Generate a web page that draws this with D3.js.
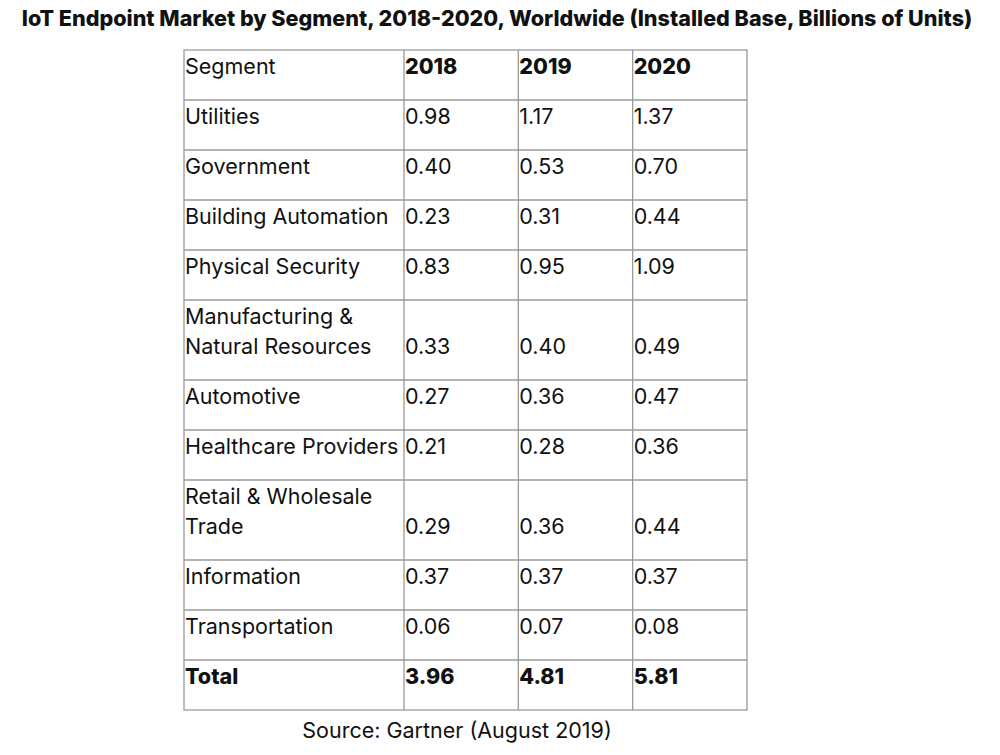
<!DOCTYPE html>
<html>
<head>
<meta charset="utf-8">
<script src="https://cdn.jsdelivr.net/npm/d3@7"></script>
<style>
  body { margin: 0; background: #fff; }
  svg text { fill: #111; }
</style>
</head>
<body>
<div id="graph"></div>
<script>
var title = "IoT Endpoint Market by Segment, 2018-2020, Worldwide (Installed Base, Billions of Units)";
var source = "Source: Gartner (August 2019)";
var header = "Segment";
var years = ["2018", "2019", "2020"];
var segments = ["Utilities", "Government", "Building Automation", "Physical Security",
  "Manufacturing &|Natural Resources", "Automotive", "Healthcare Providers",
  "Retail & Wholesale|Trade", "Information", "Transportation"];
var v2018 = ["0.98", "0.40", "0.23", "0.83", "0.33", "0.27", "0.21", "0.29", "0.37", "0.06"];
var v2019 = ["1.17", "0.53", "0.31", "0.95", "0.40", "0.36", "0.28", "0.36", "0.37", "0.07"];
var v2020 = ["1.37", "0.70", "0.44", "1.09", "0.49", "0.47", "0.36", "0.44", "0.37", "0.08"];
var totalLabel = "Total";
var totals = ["3.96", "4.81", "5.81"];

var width = 1000, height = 755;
var bodyFont = "Inter, Roboto, sans-serif";
var heavyFont = "Inter, 'DejaVu Sans', sans-serif";
var fs = 21.5, lineH = 30, rowH = 50;

// rows: header, segments, total
var rows = [{label: header, vals: years, bold: true, labelBold: false}];
segments.forEach(function(s, i){
  rows.push({label: s, vals: [v2018[i], v2019[i], v2020[i]], bold: false, labelBold: false});
});
rows.push({label: totalLabel, vals: totals, bold: true, labelBold: true});

// cumulative row tops
var y0 = 50, acc = y0;
rows.forEach(function(r){
  r.lines = r.label.split("|");
  r.top = acc;
  r.h = rowH + (r.lines.length - 1) * lineH;
  acc += r.h;
});
var tableBottom = acc;

var left = 184, segRight = 404, right = 747;
var xYear = d3.scaleBand().domain([0, 1, 2]).range([segRight, right]).padding(0);

var svg = d3.select("#graph").append("svg")
  .attr("width", width)
  .attr("height", height);

// title, sized to the reference width
var t = svg.append("text")
  .attr("x", 497)
  .attr("y", 26)
  .attr("text-anchor", "middle")
  .style("font-family", heavyFont)
  .style("font-weight", 800)
  .style("font-size", "20px")
  .text(title);
var tw = t.node().getComputedTextLength();
t.style("font-size", (20 * 951 / tw) + "px");

// grid lines
var grid = svg.append("g")
  .attr("stroke", "#9a9a9a")
  .attr("stroke-width", 1.3)
  .attr("fill", "none");

grid.append("rect")
  .attr("x", left).attr("y", y0)
  .attr("width", right - left).attr("height", tableBottom - y0);

grid.selectAll(".hline")
  .data(rows.slice(1))
  .enter().append("line")
  .attr("x1", left).attr("x2", right)
  .attr("y1", function(d){ return d.top; })
  .attr("y2", function(d){ return d.top; });

grid.selectAll(".vline")
  .data([0, 1, 2])
  .enter().append("line")
  .attr("x1", function(d){ return xYear(d); })
  .attr("x2", function(d){ return xYear(d); })
  .attr("y1", y0).attr("y2", tableBottom);

// cells
var rowG = svg.selectAll(".row")
  .data(rows)
  .enter().append("g")
  .attr("class", "row");

rowG.each(function(r){
  var g = d3.select(this);
  r.lines.forEach(function(line, k){
    g.append("text")
      .attr("x", left + 1)
      .attr("y", r.top + 24 + k * lineH)
      .style("font-family", r.labelBold ? heavyFont : bodyFont)
      .style("font-weight", r.labelBold ? 800 : 400)
      .style("font-size", fs + "px")
      .text(line);
  });
  var lastY = r.top + 24 + (r.lines.length - 1) * lineH;
  r.vals.forEach(function(v, j){
    g.append("text")
      .attr("x", xYear(j) + 1)
      .attr("y", lastY)
      .style("font-family", r.bold ? heavyFont : bodyFont)
      .style("font-weight", r.bold ? 800 : 400)
      .style("font-size", fs + "px")
      .text(v);
  });
});

// source
svg.append("text")
  .attr("x", 457)
  .attr("y", 738)
  .attr("text-anchor", "middle")
  .style("font-family", bodyFont)
  .style("font-size", fs + "px")
  .text(source);
</script>
</body>
</html>
